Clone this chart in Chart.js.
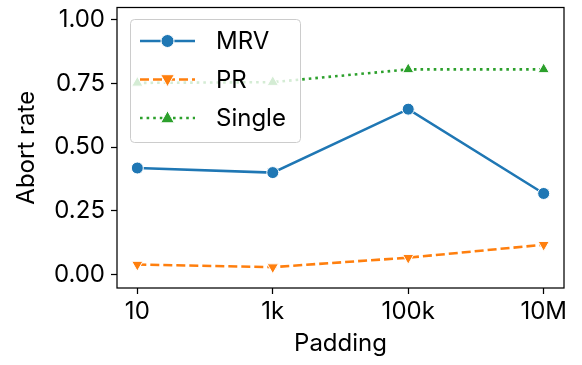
<!DOCTYPE html>
<html>
<head>
<meta charset="utf-8">
<script src="https://cdn.jsdelivr.net/npm/chart.js@4"></script>
<style>
  html, body { margin: 0; padding: 0; background: #fff; }
  #wrap { width: 582px; height: 365px; }
</style>
</head>
<body>
<div id="wrap"><canvas id="abortChart" width="582" height="365"></canvas></div>
<script>
// Data
const categories = ['10', '1k', '100k', '10M'];
const mrvValues = [0.418, 0.400, 0.649, 0.318];
const prValues = [0.039, 0.029, 0.066, 0.117];
const singleValues = [0.752, 0.755, 0.805, 0.805];
const yTickValues = [0, 0.25, 0.5, 0.75, 1.0];

const FONT = 'Inter';
const COLORS = { mrv: '#1f77b4', pr: '#ff7f0e', single: '#2ca02c' };

function toPoints(values) {
    return values.map((y, i) => ({ x: i, y }));
}

// draw a marker for the legend
function drawMarker(ctx, style, rotation, r, x, y, color) {
    ctx.save();
    ctx.fillStyle = color;
    ctx.strokeStyle = '#fff';
    ctx.lineWidth = 1;
    ctx.setLineDash([]);
    ctx.beginPath();
    if (style === 'circle') {
        ctx.arc(x, y, r, 0, Math.PI * 2);
    } else {
        const dir = rotation === 180 ? -1 : 1;
        const h = r * 1.85;
        const w = r * 1.05;
        ctx.moveTo(x, y - dir * h * 0.6);
        ctx.lineTo(x + w, y + dir * h * 0.4);
        ctx.lineTo(x - w, y + dir * h * 0.4);
        ctx.closePath();
    }
    ctx.fill();
    ctx.stroke();
    ctx.restore();
}

const frameAndLegend = {
    id: 'frameAndLegend',
    afterDatasetsDraw(chart) {
        const ctx = chart.ctx;

        // legend box in the upper left
        const bx = 130.5, by = 19.5, bw = 170, bh = 123;
        ctx.save();
        ctx.beginPath();
        ctx.roundRect(bx, by, bw, bh, 4);
        ctx.fillStyle = 'rgba(255,255,255,0.8)';
        ctx.fill();
        ctx.strokeStyle = '#cccccc';
        ctx.lineWidth = 1;
        ctx.stroke();

        chart.data.datasets.forEach((ds, i) => {
            const y = 41 + i * 38.5;
            ctx.beginPath();
            ctx.setLineDash(ds.borderDash || []);
            ctx.strokeStyle = ds.borderColor;
            ctx.lineWidth = ds.borderWidth;
            ctx.moveTo(140, y);
            ctx.lineTo(195, y);
            ctx.stroke();
            drawMarker(ctx, ds.pointStyle, ds.pointRotation, 6.5, 167.5, y, ds.borderColor);

            ctx.fillStyle = '#000';
            ctx.font = '24px ' + FONT;
            ctx.textBaseline = 'middle';
            ctx.textAlign = 'left';
            ctx.fillText(ds.label, 216, y + 1);
        });
        ctx.restore();
    },
    afterDraw(chart) {
        const ctx = chart.ctx;
        const a = chart.chartArea;
        ctx.save();
        ctx.strokeStyle = '#000';
        ctx.lineWidth = 1.25;
        ctx.strokeRect(a.left, a.top, a.right - a.left, a.bottom - a.top);
        ctx.restore();
    }
};

const ctx = document.getElementById('abortChart');

new Chart(ctx, {
    type: 'line',
    data: {
        datasets: [{
            label: 'MRV',
            data: toPoints(mrvValues),
            borderColor: COLORS.mrv,
            backgroundColor: COLORS.mrv,
            borderWidth: 2.6,
            pointStyle: 'circle',
            pointRadius: 6,
            pointBorderColor: '#fff',
            pointBorderWidth: 1,
            pointBackgroundColor: COLORS.mrv
        }, {
            label: 'PR',
            data: toPoints(prValues),
            borderColor: COLORS.pr,
            backgroundColor: COLORS.pr,
            borderWidth: 2.6,
            borderDash: [9, 4],
            pointStyle: 'triangle',
            pointRotation: 180,
            pointRadius: 6.5,
            pointBorderColor: '#fff',
            pointBorderWidth: 1,
            pointBackgroundColor: COLORS.pr
        }, {
            label: 'Single',
            data: toPoints(singleValues),
            borderColor: COLORS.single,
            backgroundColor: COLORS.single,
            borderWidth: 2.6,
            borderDash: [2.6, 4],
            pointStyle: 'triangle',
            pointRotation: 0,
            pointRadius: 6.5,
            pointBorderColor: '#fff',
            pointBorderWidth: 1,
            pointBackgroundColor: COLORS.single
        }]
    },
    options: {
        responsive: false,
        animation: false,
        layout: { padding: { top: 6, right: 18, left: 0, bottom: 0 } },
        plugins: {
            legend: { display: false },
            tooltip: { enabled: false }
        },
        scales: {
            x: {
                type: 'linear',
                min: -0.15,
                max: 3.15,
                afterBuildTicks: scale => {
                    scale.ticks = categories.map((c, i) => ({ value: i }));
                },
                afterFit: scale => {
                    scale.height = 77;
                    scale.paddingLeft = 0;
                    scale.paddingRight = 0;
                },
                grid: {
                    drawOnChartArea: false,
                    drawTicks: true,
                    tickLength: 6,
                    tickColor: '#000',
                    tickWidth: 1.25
                },
                border: { display: false },
                ticks: {
                    color: '#000',
                    font: { family: FONT, size: 24 },
                    padding: 3,
                    maxRotation: 0,
                    callback: value => categories[value]
                },
                title: {
                    display: true,
                    text: 'Padding',
                    color: '#000',
                    font: { family: FONT, size: 24 },
                    padding: { top: 0, bottom: 7 }
                }
            },
            y: {
                min: -0.053,
                max: 1.048,
                afterBuildTicks: scale => {
                    scale.ticks = yTickValues.map(v => ({ value: v }));
                },
                afterFit: scale => {
                    scale.width = 117;
                    scale.paddingTop = 0;
                    scale.paddingBottom = 0;
                },
                grid: {
                    drawOnChartArea: false,
                    drawTicks: true,
                    tickLength: 6,
                    tickColor: '#000',
                    tickWidth: 1.25
                },
                border: { display: false },
                ticks: {
                    color: '#000',
                    font: { family: FONT, size: 24 },
                    padding: 6,
                    callback: value => value.toFixed(2)
                },
                title: {
                    display: true,
                    text: 'Abort rate',
                    color: '#000',
                    font: { family: FONT, size: 24 },
                    padding: { top: 12, bottom: 0 }
                }
            }
        }
    },
    plugins: [frameAndLegend]
});
</script>
</body>
</html>
